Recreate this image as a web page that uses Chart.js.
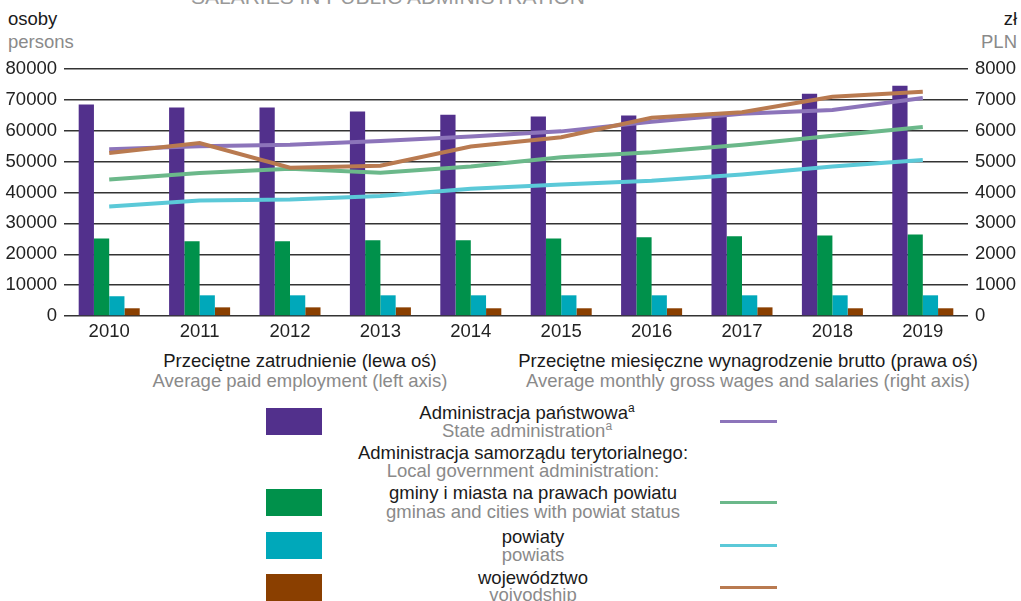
<!DOCTYPE html>
<html lang="pl">
<head>
  <meta charset="UTF-8">
  <title>Zatrudnienie i wynagrodzenia w administracji publicznej</title>
  <script src="https://cdn.jsdelivr.net/npm/chart.js"></script>
  <style>
    body { margin: 0; width: 1021px; height: 601px; position: relative; overflow: hidden; background: #fff;
           font-family: "Liberation Sans", Arial, sans-serif; }
    .t { position: absolute; white-space: nowrap; font-size: 18.5px; line-height: 18px; color: #1a1a1a; }
    .g { color: #8a8a8a; }
    .c { transform: translateX(-50%); text-align: center; }
    .sw { position: absolute; left: 266px; width: 56px; height: 27px; }
    .ln { position: absolute; left: 720px; width: 57px; height: 3px; }
    sup { font-size: 12px; line-height: 0; vertical-align: 7px; }
    #chartWrap { position: absolute; left: 0; top: 0; }
  </style>
</head>
<body>
  <div class="t g c" style="left:388px; top:-13px; font-size:21px; line-height:20px; color:#999">SALARIES IN PUBLIC ADMINISTRATION</div>
  <div class="t" style="left:8px; top:10px">osoby</div>
  <div class="t g" style="left:8px; top:33px">persons</div>
  <div class="t" style="right:4px; top:10px">zł</div>
  <div class="t g" style="right:4px; top:33px">PLN</div>

  <div id="chartWrap"><canvas id="chart" width="1021" height="345"></canvas></div>

  <div class="t c" style="left:300px; top:352px">Przeciętne zatrudnienie (lewa oś)</div>
  <div class="t g c" style="left:300px; top:372px">Average paid employment (left axis)</div>
  <div class="t c" style="left:748px; top:352px">Przeciętne miesięczne wynagrodzenie brutto (prawa oś)</div>
  <div class="t g c" style="left:748px; top:372px">Average monthly gross wages and salaries (right axis)</div>

  <div class="sw" style="top:408px; background:#52308c"></div>
  <div class="sw" style="top:489px; background:#00914b"></div>
  <div class="sw" style="top:532px; background:#00a8ba"></div>
  <div class="sw" style="top:574px; background:#8a3f00"></div>

  <div class="ln" style="top:420px; background:#8c74ba"></div>
  <div class="ln" style="top:501px; background:#6bb88a"></div>
  <div class="ln" style="top:544px; background:#5bc9d8"></div>
  <div class="ln" style="top:586px; background:#b97a50"></div>

  <div class="t c" style="left:527px; top:404px">Administracja państwowa<sup>a</sup></div>
  <div class="t g c" style="left:527px; top:422px">State administration<sup>a</sup></div>
  <div class="t c" style="left:523px; top:444px">Administracja samorządu terytorialnego:</div>
  <div class="t g c" style="left:523px; top:462px">Local government administration:</div>
  <div class="t c" style="left:533px; top:484px">gminy i miasta na prawach powiatu</div>
  <div class="t g c" style="left:533px; top:503px">gminas and cities with powiat status</div>
  <div class="t c" style="left:533px; top:528px">powiaty</div>
  <div class="t g c" style="left:533px; top:546px">powiats</div>
  <div class="t c" style="left:533px; top:569px">województwo</div>
  <div class="t g c" style="left:533px; top:586px">voivodship</div>

  <script>
    // lata
    const years = ['2010', '2011', '2012', '2013', '2014', '2015', '2016', '2017', '2018', '2019'];

    // przeciętne zatrudnienie (osoby) - lewa oś
    const empState   = [68500, 67500, 67500, 66200, 65200, 64600, 64900, 65500, 72000, 74600];
    const empGminy   = [25100, 24200, 24200, 24500, 24500, 25100, 25500, 25800, 26100, 26400];
    const empPowiaty = [6400, 6700, 6700, 6700, 6700, 6700, 6700, 6700, 6700, 6700];
    const empWoj     = [2500, 2800, 2800, 2800, 2500, 2500, 2500, 2800, 2500, 2500];

    // przeciętne miesięczne wynagrodzenie brutto (zł) - prawa oś
    const wageState   = [5400, 5500, 5550, 5670, 5810, 5980, 6290, 6550, 6670, 7060];
    const wageGminy   = [4420, 4630, 4770, 4640, 4840, 5140, 5300, 5550, 5840, 6120];
    const wagePowiaty = [3550, 3740, 3770, 3890, 4120, 4260, 4380, 4580, 4840, 5050];
    const wageWoj     = [5280, 5600, 4800, 4870, 5490, 5790, 6420, 6600, 7100, 7260];

    const font = { family: '"Liberation Sans", Arial, sans-serif', size: 18.5 };

    const bar = (label, data, color, order) => ({
      type: 'bar', label, data, backgroundColor: color, yAxisID: 'y', order,
      categoryPercentage: 0.675, barPercentage: 1.0, borderWidth: 0
    });
    const line = (label, data, color, order) => ({
      type: 'line', label, data, borderColor: color, backgroundColor: color, yAxisID: 'y1', order,
      borderWidth: 4, pointRadius: 0, tension: 0, fill: false
    });

    new Chart(document.getElementById('chart').getContext('2d'), {
      data: {
        labels: years,
        datasets: [
          bar('Administracja państwowa', empState, '#52308c', 5),
          bar('gminy i miasta na prawach powiatu', empGminy, '#00914b', 6),
          bar('powiaty', empPowiaty, '#00a8ba', 7),
          bar('województwo', empWoj, '#8a3f00', 8),
          line('Administracja państwowa', wageState, '#8c74ba', 3),
          line('gminy i miasta na prawach powiatu', wageGminy, '#6bb88a', 2),
          line('powiaty', wagePowiaty, '#5bc9d8', 1),
          line('województwo', wageWoj, '#b97a50', 0)
        ]
      },
      options: {
        responsive: false,
        animation: false,
        devicePixelRatio: 1,
        layout: { padding: { top: 69, left: 0, right: 0, bottom: 0 } },
        plugins: { legend: { display: false }, tooltip: { enabled: false } },
        scales: {
          x: {
            grid: { display: false, drawTicks: false },
            border: { display: false },
            ticks: { color: '#222', font, padding: 5 },
            afterFit: s => { s.height = 29; }
          },
          y: {
            position: 'left',
            min: 0, max: 80000,
            ticks: { stepSize: 10000, color: '#222', font, padding: 7, callback: v => String(v) },
            grid: { color: '#333', lineWidth: 1.5, drawTicks: false },
            border: { display: false },
            afterFit: s => { s.width = 64; }
          },
          y1: {
            position: 'right',
            min: 0, max: 8000,
            ticks: { stepSize: 1000, color: '#222', font, padding: 7, callback: v => String(v) },
            grid: { display: false, drawTicks: false },
            border: { display: false },
            afterFit: s => { s.width = 53; }
          }
        }
      }
    });
  </script>
</body>
</html>
